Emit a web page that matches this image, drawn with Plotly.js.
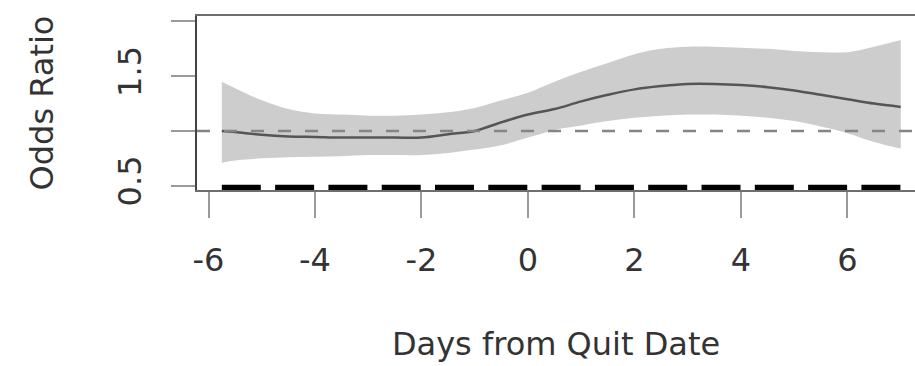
<!DOCTYPE html>
<html>
<head>
<meta charset="utf-8">
<script src="https://cdn.plot.ly/plotly-3.0.1.min.js"></script>
<style>
  html, body { margin: 0; padding: 0; background: #ffffff; }
  #chart { width: 915px; height: 366px; }
</style>
</head>
<body>
<div id="chart"></div>
<script>
// Days from quit date
const days = [-5.75, -5.5, -5, -4.5, -4, -3.5, -3, -2.5, -2, -1.5, -1, -0.5, 0, 0.5, 1, 1.5, 2, 2.5, 3, 3.5, 4, 4.5, 5, 5.5, 6, 6.5, 7];
// Estimated odds ratio
const oddsRatio = [1.00, 0.99, 0.965, 0.95, 0.945, 0.94, 0.94, 0.94, 0.94, 0.97, 1.00, 1.08, 1.15, 1.20, 1.27, 1.33, 1.38, 1.41, 1.43, 1.43, 1.42, 1.40, 1.37, 1.33, 1.29, 1.25, 1.22];
// Confidence band
const upperCI = [1.45, 1.39, 1.28, 1.20, 1.16, 1.15, 1.14, 1.14, 1.15, 1.17, 1.21, 1.28, 1.35, 1.45, 1.54, 1.62, 1.70, 1.75, 1.77, 1.77, 1.76, 1.75, 1.73, 1.72, 1.72, 1.77, 1.83];
const lowerCI = [0.71, 0.73, 0.75, 0.76, 0.765, 0.77, 0.78, 0.78, 0.78, 0.80, 0.83, 0.87, 0.94, 1.01, 1.05, 1.09, 1.12, 1.14, 1.15, 1.15, 1.14, 1.12, 1.09, 1.04, 0.98, 0.90, 0.84];
// Bottom dashed band (observation period)
const rugX = [-5.75, 7.0];
const rugY = [0.468, 0.468];
// Reference value
const refOR = 1;
// Ticks
const xTickVals = [-6, -4, -2, 0, 2, 4, 6];
const xTickText = ["-6", "-4", "-2", "0", "2", "4", "6"];
const yTickVals = [0.5, 1, 1.5, 2];
const yTickText = ["0.5", "", "1.5", ""];

const FONT = 'DejaVu Sans, sans-serif';

const traces = [
  { x: days, y: lowerCI, type: 'scatter', mode: 'lines',
    line: { width: 0, shape: 'spline', color: 'rgba(0,0,0,0)' }, hoverinfo: 'skip', showlegend: false },
  { x: days, y: upperCI, type: 'scatter', mode: 'lines', fill: 'tonexty',
    fillcolor: '#cdcdcd', line: { width: 0, shape: 'spline', color: 'rgba(0,0,0,0)' }, showlegend: false },
  { x: days, y: oddsRatio, type: 'scatter', mode: 'lines',
    line: { color: '#555555', width: 2.5, shape: 'spline' }, showlegend: false },
  { x: rugX, y: rugY, type: 'scatter', mode: 'lines',
    line: { color: '#000000', width: 9, dash: '39px,14.3px' }, showlegend: false }
];

const layout = {
  width: 915, height: 366,
  margin: { l: 197, r: 0, t: 16, b: 176, pad: 0 },
  paper_bgcolor: '#ffffff', plot_bgcolor: '#ffffff',
  showlegend: false,
  font: { family: FONT, size: 32, color: '#333333' },
  xaxis: {
    range: [-6.216, 7.268], autorange: false,
    showline: true, mirror: true, linecolor: '#6e6e6e', linewidth: 2,
    ticks: 'outside', ticklen: 26, tickwidth: 2, tickcolor: '#9a9a9a',
    tickvals: xTickVals, ticktext: xTickText, ticklabelstandoff: 15,
    tickfont: { family: FONT, size: 32, color: '#333333' },
    showgrid: false, zeroline: false, automargin: false,
    title: { text: 'Days from Quit Date', font: { family: FONT, size: 32, color: '#333333' }, standoff: 54 }
  },
  yaxis: {
    range: [0.461, 2.05], autorange: false,
    showline: true, linecolor: '#444444', linewidth: 2.5,
    ticks: 'outside', ticklen: 24, tickwidth: 2, tickcolor: '#9a9a9a',
    tickvals: yTickVals, ticktext: yTickText, tickangle: -90, ticklabelstandoff: 17,
    tickfont: { family: FONT, size: 32, color: '#333333' },
    showgrid: false, zeroline: false, automargin: false,
    title: { text: 'Odds Ratio', font: { family: FONT, size: 32, color: '#333333' }, standoff: 48 }
  },
  shapes: [
    { type: 'line', xref: 'paper', x0: 0, x1: 1, yref: 'y', y0: refOR, y1: refOR,
      line: { color: '#858585', width: 2.5, dash: '13px,14px' }, layer: 'above' }
  ]
};

Plotly.newPlot('chart', traces, layout, { displayModeBar: false, staticPlot: true });
</script>
</body>
</html>
